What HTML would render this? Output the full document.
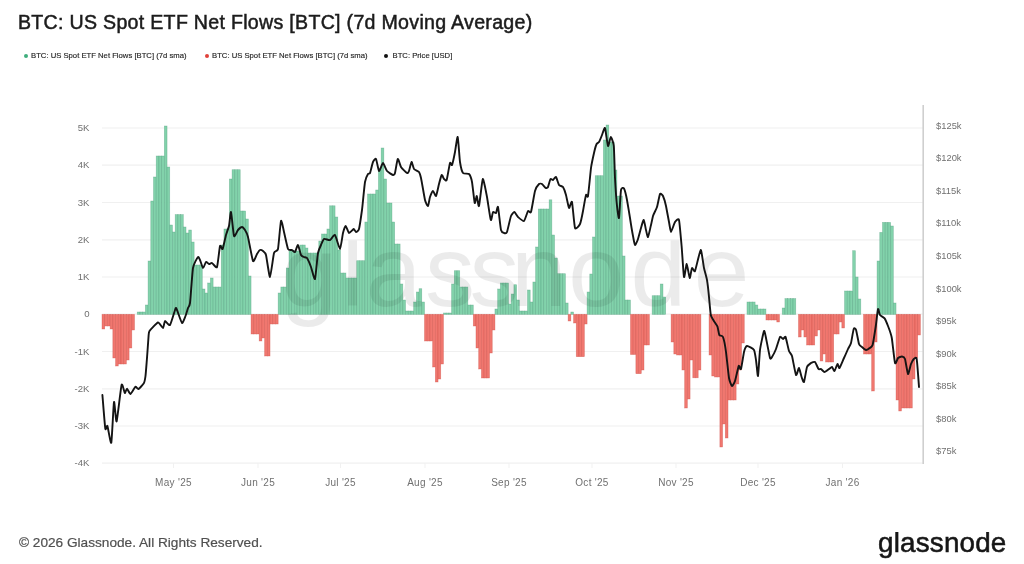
<!DOCTYPE html>
<html lang="en"><head><meta charset="utf-8"><title>BTC: US Spot ETF Net Flows [BTC] (7d Moving Average)</title>
<style>
html,body{margin:0;padding:0;background:#fff;}
body{width:1024px;height:564px;position:relative;overflow:hidden;filter:blur(0.4px);font-family:"Liberation Sans",Arial,sans-serif;}
.title{position:absolute;left:18px;top:10px;font-size:19.6px;line-height:24px;color:#1c1c1c;white-space:nowrap;letter-spacing:0.29px;-webkit-text-stroke:0.5px #1c1c1c;}
.legend{position:absolute;left:0;top:50px;height:12px;font-size:7.7px;line-height:12px;color:#262626;white-space:nowrap;-webkit-text-stroke:0.15px #262626;}
.legend span.it{position:absolute;top:0;}
.legend i{position:absolute;top:4px;width:4px;height:4px;border-radius:50%;}
.foot{position:absolute;left:19px;top:534px;font-size:13.65px;line-height:17px;color:#505050;white-space:nowrap;-webkit-text-stroke:0.2px #505050;}
.logo{position:absolute;left:878px;top:525.8px;font-size:27.8px;line-height:34px;letter-spacing:0.2px;color:#161616;white-space:nowrap;-webkit-text-stroke:0.55px #161616;clip-path:inset(6.2px 0 0 0);}
</style></head><body>
<svg width="1024" height="564" viewBox="0 0 1024 564" style="position:absolute;left:0;top:0">
<defs><clipPath id="wmclip"><rect x="270" y="240.5" width="500" height="110"/></clipPath></defs>
<g stroke="#f0f0f0" stroke-width="1.2">
<line x1="102" x2="923" y1="128.0" y2="128.0"/>
<line x1="102" x2="923" y1="165.2" y2="165.2"/>
<line x1="102" x2="923" y1="202.5" y2="202.5"/>
<line x1="102" x2="923" y1="239.8" y2="239.8"/>
<line x1="102" x2="923" y1="277.0" y2="277.0"/>
<line x1="102" x2="923" y1="314.2" y2="314.2"/>
<line x1="102" x2="923" y1="351.5" y2="351.5"/>
<line x1="102" x2="923" y1="388.8" y2="388.8"/>
<line x1="102" x2="923" y1="426.0" y2="426.0"/>
<line x1="102" x2="923" y1="463.2" y2="463.2"/>
</g>
<g stroke="#f1f1f1" stroke-width="1">
<line x1="173.5" x2="173.5" y1="463" y2="468"/>
<line x1="258.0" x2="258.0" y1="463" y2="468"/>
<line x1="340.5" x2="340.5" y1="463" y2="468"/>
<line x1="425.0" x2="425.0" y1="463" y2="468"/>
<line x1="509.0" x2="509.0" y1="463" y2="468"/>
<line x1="592.0" x2="592.0" y1="463" y2="468"/>
<line x1="676.0" x2="676.0" y1="463" y2="468"/>
<line x1="758.0" x2="758.0" y1="463" y2="468"/>
<line x1="842.5" x2="842.5" y1="463" y2="468"/>
</g>
<g fill="#7bd0a6" fill-opacity="0.95" stroke="#4a9a77" stroke-opacity="0.5" stroke-width="0.6"><rect x="137.23" y="312.0" width="2.71" height="2.4"/><rect x="139.94" y="312.0" width="2.71" height="2.4"/><rect x="142.65" y="312.0" width="2.71" height="2.4"/><rect x="145.36" y="305.0" width="2.71" height="9.4"/><rect x="148.07" y="261.0" width="2.71" height="53.4"/><rect x="150.78" y="201.0" width="2.71" height="113.4"/><rect x="153.49" y="177.0" width="2.71" height="137.4"/><rect x="156.20" y="156.0" width="2.71" height="158.4"/><rect x="158.91" y="156.0" width="2.71" height="158.4"/><rect x="161.62" y="156.0" width="2.71" height="158.4"/><rect x="164.33" y="126.0" width="2.71" height="188.4"/><rect x="167.04" y="167.0" width="2.71" height="147.4"/><rect x="169.75" y="225.0" width="2.71" height="89.4"/><rect x="172.46" y="232.0" width="2.71" height="82.4"/><rect x="175.17" y="214.6" width="2.71" height="99.8"/><rect x="177.88" y="214.6" width="2.71" height="99.8"/><rect x="180.59" y="214.6" width="2.71" height="99.8"/><rect x="183.30" y="227.0" width="2.71" height="87.4"/><rect x="186.01" y="233.0" width="2.71" height="81.4"/><rect x="188.72" y="230.0" width="2.71" height="84.4"/><rect x="191.43" y="242.0" width="2.71" height="72.4"/><rect x="194.14" y="265.0" width="2.71" height="49.4"/><rect x="196.85" y="265.0" width="2.71" height="49.4"/><rect x="199.56" y="265.0" width="2.71" height="49.4"/><rect x="202.27" y="289.0" width="2.71" height="25.4"/><rect x="204.98" y="293.0" width="2.71" height="21.4"/><rect x="207.69" y="283.0" width="2.71" height="31.4"/><rect x="210.40" y="278.0" width="2.71" height="36.4"/><rect x="213.11" y="287.0" width="2.71" height="27.4"/><rect x="215.82" y="287.0" width="2.71" height="27.4"/><rect x="218.53" y="287.0" width="2.71" height="27.4"/><rect x="221.24" y="245.0" width="2.71" height="69.4"/><rect x="223.95" y="229.0" width="2.71" height="85.4"/><rect x="226.66" y="229.0" width="2.71" height="85.4"/><rect x="229.37" y="179.0" width="2.71" height="135.4"/><rect x="232.08" y="169.7" width="2.71" height="144.7"/><rect x="234.79" y="169.7" width="2.71" height="144.7"/><rect x="237.50" y="169.7" width="2.71" height="144.7"/><rect x="240.21" y="211.0" width="2.71" height="103.4"/><rect x="242.92" y="211.0" width="2.71" height="103.4"/><rect x="245.63" y="219.0" width="2.71" height="95.4"/><rect x="248.34" y="276.0" width="2.71" height="38.4"/><rect x="278.15" y="293.0" width="2.71" height="21.4"/><rect x="280.86" y="287.0" width="2.71" height="27.4"/><rect x="283.57" y="287.0" width="2.71" height="27.4"/><rect x="286.28" y="268.0" width="2.71" height="46.4"/><rect x="288.99" y="251.0" width="2.71" height="63.4"/><rect x="291.70" y="251.0" width="2.71" height="63.4"/><rect x="294.41" y="251.0" width="2.71" height="63.4"/><rect x="297.12" y="251.0" width="2.71" height="63.4"/><rect x="299.83" y="245.0" width="2.71" height="69.4"/><rect x="302.54" y="245.0" width="2.71" height="69.4"/><rect x="305.25" y="248.0" width="2.71" height="66.4"/><rect x="307.96" y="253.0" width="2.71" height="61.4"/><rect x="310.67" y="253.0" width="2.71" height="61.4"/><rect x="313.38" y="253.0" width="2.71" height="61.4"/><rect x="316.09" y="253.0" width="2.71" height="61.4"/><rect x="318.80" y="241.0" width="2.71" height="73.4"/><rect x="321.51" y="234.0" width="2.71" height="80.4"/><rect x="324.22" y="234.0" width="2.71" height="80.4"/><rect x="326.93" y="229.0" width="2.71" height="85.4"/><rect x="329.64" y="205.8" width="2.71" height="108.6"/><rect x="332.35" y="205.8" width="2.71" height="108.6"/><rect x="335.06" y="217.0" width="2.71" height="97.4"/><rect x="337.77" y="250.0" width="2.71" height="64.4"/><rect x="340.48" y="273.0" width="2.71" height="41.4"/><rect x="343.19" y="273.0" width="2.71" height="41.4"/><rect x="345.90" y="278.0" width="2.71" height="36.4"/><rect x="348.61" y="278.0" width="2.71" height="36.4"/><rect x="351.32" y="278.0" width="2.71" height="36.4"/><rect x="354.03" y="278.0" width="2.71" height="36.4"/><rect x="356.74" y="260.7" width="2.71" height="53.7"/><rect x="359.45" y="260.7" width="2.71" height="53.7"/><rect x="362.16" y="260.7" width="2.71" height="53.7"/><rect x="364.87" y="222.0" width="2.71" height="92.4"/><rect x="367.58" y="194.0" width="2.71" height="120.4"/><rect x="370.29" y="194.0" width="2.71" height="120.4"/><rect x="373.00" y="194.0" width="2.71" height="120.4"/><rect x="375.71" y="190.0" width="2.71" height="124.4"/><rect x="378.42" y="170.0" width="2.71" height="144.4"/><rect x="381.13" y="148.0" width="2.71" height="166.4"/><rect x="383.84" y="179.0" width="2.71" height="135.4"/><rect x="386.55" y="203.0" width="2.71" height="111.4"/><rect x="389.26" y="203.0" width="2.71" height="111.4"/><rect x="391.97" y="222.0" width="2.71" height="92.4"/><rect x="394.68" y="244.0" width="2.71" height="70.4"/><rect x="397.39" y="244.0" width="2.71" height="70.4"/><rect x="400.10" y="284.0" width="2.71" height="30.4"/><rect x="402.81" y="300.0" width="2.71" height="14.4"/><rect x="405.52" y="311.0" width="2.71" height="3.4"/><rect x="408.23" y="311.0" width="2.71" height="3.4"/><rect x="410.94" y="311.0" width="2.71" height="3.4"/><rect x="413.65" y="302.0" width="2.71" height="12.4"/><rect x="416.36" y="292.0" width="2.71" height="22.4"/><rect x="419.07" y="288.7" width="2.71" height="25.7"/><rect x="421.78" y="302.0" width="2.71" height="12.4"/><rect x="443.46" y="313.0" width="2.71" height="1.4"/><rect x="446.17" y="313.0" width="2.71" height="1.4"/><rect x="448.88" y="313.0" width="2.71" height="1.4"/><rect x="451.59" y="284.0" width="2.71" height="30.4"/><rect x="454.30" y="270.7" width="2.71" height="43.7"/><rect x="457.01" y="270.7" width="2.71" height="43.7"/><rect x="459.72" y="287.0" width="2.71" height="27.4"/><rect x="462.43" y="287.0" width="2.71" height="27.4"/><rect x="465.14" y="287.0" width="2.71" height="27.4"/><rect x="467.85" y="305.0" width="2.71" height="9.4"/><rect x="470.56" y="305.0" width="2.71" height="9.4"/><rect x="494.95" y="309.0" width="2.71" height="5.4"/><rect x="497.66" y="289.0" width="2.71" height="25.4"/><rect x="500.37" y="283.0" width="2.71" height="31.4"/><rect x="503.08" y="283.0" width="2.71" height="31.4"/><rect x="505.79" y="283.0" width="2.71" height="31.4"/><rect x="508.50" y="304.0" width="2.71" height="10.4"/><rect x="511.21" y="294.0" width="2.71" height="20.4"/><rect x="513.92" y="284.7" width="2.71" height="29.7"/><rect x="516.63" y="300.0" width="2.71" height="14.4"/><rect x="519.34" y="311.0" width="2.71" height="3.4"/><rect x="522.05" y="311.0" width="2.71" height="3.4"/><rect x="524.76" y="311.0" width="2.71" height="3.4"/><rect x="527.47" y="290.0" width="2.71" height="24.4"/><rect x="530.18" y="302.0" width="2.71" height="12.4"/><rect x="532.89" y="282.0" width="2.71" height="32.4"/><rect x="535.60" y="247.0" width="2.71" height="67.4"/><rect x="538.31" y="209.0" width="2.71" height="105.4"/><rect x="541.02" y="209.0" width="2.71" height="105.4"/><rect x="543.73" y="209.0" width="2.71" height="105.4"/><rect x="546.44" y="209.0" width="2.71" height="105.4"/><rect x="549.15" y="199.8" width="2.71" height="114.6"/><rect x="551.86" y="235.0" width="2.71" height="79.4"/><rect x="554.57" y="258.0" width="2.71" height="56.4"/><rect x="557.28" y="273.7" width="2.71" height="40.7"/><rect x="559.99" y="273.7" width="2.71" height="40.7"/><rect x="562.70" y="273.7" width="2.71" height="40.7"/><rect x="565.41" y="303.0" width="2.71" height="11.4"/><rect x="570.83" y="312.0" width="2.71" height="2.4"/><rect x="587.09" y="292.0" width="2.71" height="22.4"/><rect x="589.80" y="274.0" width="2.71" height="40.4"/><rect x="592.51" y="237.0" width="2.71" height="77.4"/><rect x="595.22" y="175.7" width="2.71" height="138.7"/><rect x="597.93" y="175.7" width="2.71" height="138.7"/><rect x="600.64" y="175.7" width="2.71" height="138.7"/><rect x="603.35" y="140.0" width="2.71" height="174.4"/><rect x="606.06" y="125.0" width="2.71" height="189.4"/><rect x="608.77" y="142.0" width="2.71" height="172.4"/><rect x="611.48" y="142.0" width="2.71" height="172.4"/><rect x="614.19" y="170.0" width="2.71" height="144.4"/><rect x="616.90" y="196.0" width="2.71" height="118.4"/><rect x="619.61" y="196.0" width="2.71" height="118.4"/><rect x="622.32" y="256.0" width="2.71" height="58.4"/><rect x="625.03" y="300.0" width="2.71" height="14.4"/><rect x="627.74" y="300.0" width="2.71" height="14.4"/><rect x="652.13" y="295.7" width="2.71" height="18.7"/><rect x="654.84" y="295.7" width="2.71" height="18.7"/><rect x="657.55" y="295.7" width="2.71" height="18.7"/><rect x="660.26" y="284.0" width="2.71" height="30.4"/><rect x="662.97" y="297.0" width="2.71" height="17.4"/><rect x="746.98" y="302.0" width="2.71" height="12.4"/><rect x="749.69" y="302.0" width="2.71" height="12.4"/><rect x="752.40" y="302.0" width="2.71" height="12.4"/><rect x="755.11" y="305.0" width="2.71" height="9.4"/><rect x="757.82" y="309.0" width="2.71" height="5.4"/><rect x="760.53" y="309.0" width="2.71" height="5.4"/><rect x="763.24" y="309.0" width="2.71" height="5.4"/><rect x="782.21" y="308.0" width="2.71" height="6.4"/><rect x="784.92" y="298.6" width="2.71" height="15.8"/><rect x="787.63" y="298.6" width="2.71" height="15.8"/><rect x="790.34" y="298.6" width="2.71" height="15.8"/><rect x="793.05" y="298.6" width="2.71" height="15.8"/><rect x="844.54" y="291.0" width="2.71" height="23.4"/><rect x="847.25" y="291.0" width="2.71" height="23.4"/><rect x="849.96" y="291.0" width="2.71" height="23.4"/><rect x="852.67" y="250.7" width="2.71" height="63.7"/><rect x="855.38" y="277.0" width="2.71" height="37.4"/><rect x="858.09" y="299.0" width="2.71" height="15.4"/><rect x="877.06" y="261.0" width="2.71" height="53.4"/><rect x="879.77" y="232.4" width="2.71" height="82.0"/><rect x="882.48" y="222.4" width="2.71" height="92.0"/><rect x="885.19" y="222.4" width="2.71" height="92.0"/><rect x="887.90" y="222.4" width="2.71" height="92.0"/><rect x="890.61" y="226.0" width="2.71" height="88.4"/><rect x="893.32" y="303.0" width="2.71" height="11.4"/></g>
<g fill="#ef7169" fill-opacity="0.96" stroke="#c9453d" stroke-opacity="0.5" stroke-width="0.6"><rect x="102.00" y="314.4" width="2.71" height="14.6"/><rect x="104.71" y="314.4" width="2.71" height="11.6"/><rect x="107.42" y="314.4" width="2.71" height="11.6"/><rect x="110.13" y="314.4" width="2.71" height="14.6"/><rect x="112.84" y="314.4" width="2.71" height="43.6"/><rect x="115.55" y="314.4" width="2.71" height="51.6"/><rect x="118.26" y="314.4" width="2.71" height="49.6"/><rect x="120.97" y="314.4" width="2.71" height="49.6"/><rect x="123.68" y="314.4" width="2.71" height="49.6"/><rect x="126.39" y="314.4" width="2.71" height="45.6"/><rect x="129.10" y="314.4" width="2.71" height="33.6"/><rect x="131.81" y="314.4" width="2.71" height="15.6"/><rect x="251.05" y="314.4" width="2.71" height="19.6"/><rect x="253.76" y="314.4" width="2.71" height="19.6"/><rect x="256.47" y="314.4" width="2.71" height="19.6"/><rect x="259.18" y="314.4" width="2.71" height="26.6"/><rect x="261.89" y="314.4" width="2.71" height="23.6"/><rect x="264.60" y="314.4" width="2.71" height="41.6"/><rect x="267.31" y="314.4" width="2.71" height="41.6"/><rect x="270.02" y="314.4" width="2.71" height="9.6"/><rect x="272.73" y="314.4" width="2.71" height="9.6"/><rect x="275.44" y="314.4" width="2.71" height="9.6"/><rect x="424.49" y="314.4" width="2.71" height="26.6"/><rect x="427.20" y="314.4" width="2.71" height="26.6"/><rect x="429.91" y="314.4" width="2.71" height="26.6"/><rect x="432.62" y="314.4" width="2.71" height="52.6"/><rect x="435.33" y="314.4" width="2.71" height="67.6"/><rect x="438.04" y="314.4" width="2.71" height="64.6"/><rect x="440.75" y="314.4" width="2.71" height="49.6"/><rect x="473.27" y="314.4" width="2.71" height="11.6"/><rect x="475.98" y="314.4" width="2.71" height="33.6"/><rect x="478.69" y="314.4" width="2.71" height="54.6"/><rect x="481.40" y="314.4" width="2.71" height="63.6"/><rect x="484.11" y="314.4" width="2.71" height="63.6"/><rect x="486.82" y="314.4" width="2.71" height="63.6"/><rect x="489.53" y="314.4" width="2.71" height="38.6"/><rect x="492.24" y="314.4" width="2.71" height="15.6"/><rect x="568.12" y="314.4" width="2.71" height="6.6"/><rect x="573.54" y="314.4" width="2.71" height="8.6"/><rect x="576.25" y="314.4" width="2.71" height="42.3"/><rect x="578.96" y="314.4" width="2.71" height="42.3"/><rect x="581.67" y="314.4" width="2.71" height="42.3"/><rect x="584.38" y="314.4" width="2.71" height="9.6"/><rect x="630.45" y="314.4" width="2.71" height="40.1"/><rect x="633.16" y="314.4" width="2.71" height="40.1"/><rect x="635.87" y="314.4" width="2.71" height="59.3"/><rect x="638.58" y="314.4" width="2.71" height="59.3"/><rect x="641.29" y="314.4" width="2.71" height="55.6"/><rect x="644.00" y="314.4" width="2.71" height="30.6"/><rect x="646.71" y="314.4" width="2.71" height="30.6"/><rect x="671.10" y="314.4" width="2.71" height="27.6"/><rect x="673.81" y="314.4" width="2.71" height="39.6"/><rect x="676.52" y="314.4" width="2.71" height="40.6"/><rect x="679.23" y="314.4" width="2.71" height="40.6"/><rect x="681.94" y="314.4" width="2.71" height="55.6"/><rect x="684.65" y="314.4" width="2.71" height="93.6"/><rect x="687.36" y="314.4" width="2.71" height="84.6"/><rect x="690.07" y="314.4" width="2.71" height="45.6"/><rect x="692.78" y="314.4" width="2.71" height="63.4"/><rect x="695.49" y="314.4" width="2.71" height="63.4"/><rect x="698.20" y="314.4" width="2.71" height="55.6"/><rect x="709.04" y="314.4" width="2.71" height="40.6"/><rect x="711.75" y="314.4" width="2.71" height="61.6"/><rect x="714.46" y="314.4" width="2.71" height="62.6"/><rect x="717.17" y="314.4" width="2.71" height="62.6"/><rect x="719.88" y="314.4" width="2.71" height="132.6"/><rect x="722.59" y="314.4" width="2.71" height="109.6"/><rect x="725.30" y="314.4" width="2.71" height="123.6"/><rect x="728.01" y="314.4" width="2.71" height="85.6"/><rect x="730.72" y="314.4" width="2.71" height="85.6"/><rect x="733.43" y="314.4" width="2.71" height="85.6"/><rect x="736.14" y="314.4" width="2.71" height="69.6"/><rect x="738.85" y="314.4" width="2.71" height="55.6"/><rect x="741.56" y="314.4" width="2.71" height="28.6"/><rect x="765.95" y="314.4" width="2.71" height="5.6"/><rect x="768.66" y="314.4" width="2.71" height="5.6"/><rect x="771.37" y="314.4" width="2.71" height="5.6"/><rect x="774.08" y="314.4" width="2.71" height="5.6"/><rect x="776.79" y="314.4" width="2.71" height="7.6"/><rect x="798.47" y="314.4" width="2.71" height="22.6"/><rect x="801.18" y="314.4" width="2.71" height="15.6"/><rect x="803.89" y="314.4" width="2.71" height="22.6"/><rect x="806.60" y="314.4" width="2.71" height="30.6"/><rect x="809.31" y="314.4" width="2.71" height="30.6"/><rect x="812.02" y="314.4" width="2.71" height="30.6"/><rect x="814.73" y="314.4" width="2.71" height="21.6"/><rect x="817.44" y="314.4" width="2.71" height="15.6"/><rect x="820.15" y="314.4" width="2.71" height="46.6"/><rect x="822.86" y="314.4" width="2.71" height="39.6"/><rect x="825.57" y="314.4" width="2.71" height="47.6"/><rect x="828.28" y="314.4" width="2.71" height="47.6"/><rect x="830.99" y="314.4" width="2.71" height="47.6"/><rect x="833.70" y="314.4" width="2.71" height="19.6"/><rect x="836.41" y="314.4" width="2.71" height="19.6"/><rect x="839.12" y="314.4" width="2.71" height="7.6"/><rect x="841.83" y="314.4" width="2.71" height="13.6"/><rect x="863.51" y="314.4" width="2.71" height="39.6"/><rect x="866.22" y="314.4" width="2.71" height="39.6"/><rect x="868.93" y="314.4" width="2.71" height="39.6"/><rect x="871.64" y="314.4" width="2.71" height="76.6"/><rect x="874.35" y="314.4" width="2.71" height="27.6"/><rect x="896.03" y="314.4" width="2.71" height="85.6"/><rect x="898.74" y="314.4" width="2.71" height="96.6"/><rect x="901.45" y="314.4" width="2.71" height="93.6"/><rect x="904.16" y="314.4" width="2.71" height="93.6"/><rect x="906.87" y="314.4" width="2.71" height="93.6"/><rect x="909.58" y="314.4" width="2.71" height="93.6"/><rect x="912.29" y="314.4" width="2.71" height="64.6"/><rect x="915.00" y="314.4" width="2.71" height="43.6"/><rect x="917.71" y="314.4" width="2.71" height="20.6"/></g>
<text x="281.3 341.4 366 424.9 469.4 511.1 568.2 630.5 693.8" y="306" font-family="Liberation Sans, Arial, sans-serif" font-size="100" fill="#000" fill-opacity="0.078" clip-path="url(#wmclip)">glassnode</text>
<line x1="923.2" x2="923.2" y1="105" y2="464" stroke="#cfcfcf" stroke-width="1.6"/>
<path d="M102.4,395.0C102.7,398.1 104.8,425.7 105.3,428.5C105.8,431.3 106.9,424.7 107.4,426.0C108.0,427.3 110.7,444.9 111.3,442.7C111.9,440.5 113.5,404.0 114.0,402.0C114.5,400.0 115.9,423.0 116.6,421.4C117.3,419.8 120.8,387.6 121.6,385.0C122.4,382.4 124.3,392.7 124.8,393.0C125.3,393.3 126.5,388.5 127.0,388.6C127.5,388.7 129.7,394.2 130.5,394.0C131.3,393.8 134.7,387.3 135.4,386.8C136.1,386.3 137.6,389.3 138.4,389.0C139.2,388.7 143.1,384.5 143.8,383.3C144.5,382.1 145.2,378.3 145.5,376.0C145.8,373.7 146.7,361.6 147.0,358.0C147.3,354.4 148.3,339.5 148.5,337.0C148.7,334.5 148.6,332.3 149.5,331.0C150.4,329.7 156.8,322.8 158.0,322.5C159.2,322.2 162.4,328.1 163.0,328.0C163.6,327.9 164.4,321.3 165.0,321.0C165.6,320.7 169.0,326.1 170.0,325.0C171.0,323.9 174.9,309.9 175.5,308.5C176.1,307.1 176.4,308.7 177.0,310.0C177.6,311.3 181.2,322.4 182.0,323.0C182.8,323.6 184.9,317.4 185.5,316.0C186.1,314.6 187.6,309.2 188.0,308.0C188.4,306.8 189.5,306.7 190.0,303.0C190.5,299.3 192.3,272.2 193.0,268.0C193.7,263.8 197.4,257.7 198.0,257.0C198.6,256.3 199.5,259.0 200.0,260.0C200.5,261.0 202.4,267.8 203.0,268.0C203.6,268.2 205.4,262.4 206.0,262.0C206.6,261.6 208.4,263.9 209.0,264.0C209.6,264.1 211.3,262.7 212.0,263.0C212.7,263.3 216.3,268.6 217.0,267.0C217.7,265.4 219.5,247.7 220.0,246.0C220.5,244.3 222.0,250.0 222.6,249.0C223.2,248.0 225.4,237.1 226.0,235.0C226.6,232.9 228.5,228.1 229.0,226.0C229.5,223.9 230.5,211.1 231.0,212.0C231.5,212.9 233.4,234.3 234.0,236.0C234.6,237.7 237.3,230.8 238.0,230.0C238.7,229.2 241.4,227.0 242.0,227.0C242.6,227.0 244.4,229.1 245.0,230.0C245.6,230.9 247.3,234.2 248.0,237.0C248.7,239.8 252.2,259.4 253.0,261.0C253.8,262.6 256.4,255.0 257.0,254.0C257.6,253.0 259.4,250.3 260.0,250.0C260.6,249.7 262.4,250.5 263.0,251.0C263.6,251.5 265.4,252.6 266.0,255.0C266.6,257.4 269.3,277.2 270.0,277.0C270.7,276.8 273.3,255.6 274.0,253.0C274.7,250.4 277.4,251.9 278.0,249.0C278.6,246.1 280.4,222.6 281.0,221.0C281.6,219.4 283.4,229.4 284.0,232.0C284.6,234.6 287.3,247.3 288.0,249.0C288.7,250.7 291.4,249.7 292.0,250.0C292.6,250.3 294.4,252.5 295.0,252.0C295.6,251.5 297.4,244.7 298.0,245.0C298.6,245.3 300.4,253.9 301.0,255.0C301.6,256.1 303.4,256.7 304.0,257.0C304.6,257.3 306.4,257.1 307.0,258.0C307.6,258.9 310.3,265.1 311.0,267.0C311.7,268.9 314.4,280.3 315.0,279.0C315.6,277.7 317.4,256.1 318.0,253.0C318.6,249.9 320.4,246.3 321.0,245.0C321.6,243.7 323.2,239.5 324.0,239.0C324.8,238.5 329.0,240.4 330.0,240.0C331.0,239.6 334.1,234.2 335.0,235.0C335.9,235.8 339.3,249.2 340.0,249.0C340.7,248.8 342.5,235.1 343.0,233.0C343.5,230.9 345.1,226.0 345.7,226.0C346.2,226.0 348.3,232.7 349.0,233.0C349.7,233.3 353.1,229.1 353.7,229.0C354.3,228.9 355.5,232.0 356.0,232.0C356.5,232.0 358.4,231.0 359.0,229.0C359.6,227.0 361.4,214.3 362.0,210.0C362.6,205.7 364.4,185.3 365.0,182.0C365.6,178.7 367.5,174.8 368.0,174.0C368.5,173.2 369.5,174.1 370.0,173.0C370.5,171.9 372.4,163.3 373.0,162.0C373.6,160.7 375.4,158.2 376.0,159.0C376.6,159.8 378.4,170.6 379.0,171.0C379.6,171.4 382.3,163.0 383.0,163.0C383.7,163.0 386.1,169.9 387.0,171.0C387.9,172.1 392.3,174.8 393.0,175.0C393.7,175.2 394.6,174.5 395.0,173.0C395.4,171.5 397.2,159.6 397.8,159.0C398.4,158.4 400.2,165.7 401.0,167.0C401.8,168.3 406.3,172.6 407.0,173.0C407.7,173.4 408.6,172.0 409.0,171.0C409.4,170.0 411.1,162.2 411.6,162.0C412.1,161.8 413.3,168.1 414.0,169.0C414.7,169.9 418.4,171.2 419.0,172.0C419.6,172.8 420.4,175.4 421.0,178.0C421.6,180.6 424.4,197.4 425.0,200.0C425.6,202.6 427.5,206.3 428.0,206.0C428.5,205.7 429.5,198.4 430.0,197.0C430.5,195.6 432.4,191.1 433.0,191.0C433.6,190.9 435.4,196.6 436.0,196.0C436.6,195.4 438.5,185.9 439.0,184.0C439.5,182.1 441.2,175.5 441.7,175.0C442.2,174.5 443.5,178.5 444.0,179.0C444.5,179.5 446.1,181.5 446.7,180.0C447.2,178.5 449.5,164.4 450.0,163.0C450.5,161.6 451.5,166.0 452.0,165.0C452.5,164.0 454.5,154.6 455.0,152.0C455.5,149.4 457.2,136.1 457.7,137.0C458.2,137.9 459.5,158.7 460.0,162.0C460.5,165.3 462.2,171.9 463.0,173.0C463.8,174.1 468.2,173.2 469.0,174.0C469.8,174.8 471.5,179.3 472.0,182.0C472.5,184.7 474.3,201.7 474.7,203.0C475.1,204.3 476.4,195.7 476.8,196.0C477.2,196.3 478.4,207.6 479.0,206.0C479.6,204.4 482.1,179.8 482.8,179.0C483.5,178.2 486.3,193.2 487.0,197.0C487.7,200.8 490.2,218.6 490.8,220.0C491.4,221.4 492.5,212.6 493.0,212.0C493.5,211.4 495.5,213.5 496.0,213.0C496.5,212.5 497.5,205.4 498.0,207.0C498.5,208.6 500.4,227.6 501.0,230.0C501.6,232.4 503.4,232.8 504.0,233.0C504.6,233.2 506.4,233.6 507.0,232.0C507.6,230.4 510.3,217.8 511.0,216.0C511.7,214.2 513.8,211.9 514.4,212.0C515.0,212.1 517.1,216.2 518.0,217.0C518.9,217.8 523.1,221.6 524.0,221.0C524.9,220.4 527.4,211.8 528.0,211.0C528.6,210.2 530.4,213.8 531.0,212.0C531.6,210.2 534.3,193.6 535.0,191.0C535.7,188.4 538.4,184.6 539.0,184.0C539.6,183.4 541.4,183.6 542.0,184.0C542.6,184.4 545.2,187.7 545.7,188.0C546.2,188.3 547.6,187.8 548.0,187.0C548.4,186.2 550.0,179.6 550.5,179.0C551.0,178.4 552.5,180.2 553.0,180.0C553.5,179.8 555.5,176.5 556.0,177.0C556.5,177.5 558.4,184.1 559.0,185.0C559.6,185.9 562.4,186.1 563.0,187.0C563.6,187.9 565.5,193.1 566.0,195.0C566.5,196.9 568.5,207.4 569.0,208.0C569.5,208.6 571.5,200.2 572.0,202.0C572.5,203.8 574.3,226.0 575.0,228.0C575.7,230.0 579.3,225.6 580.0,224.0C580.7,222.4 582.5,213.7 583.0,211.0C583.5,208.3 585.5,196.4 586.0,195.0C586.5,193.6 587.5,198.5 588.0,196.0C588.5,193.5 590.5,171.9 591.0,168.0C591.5,164.1 593.5,155.2 594.0,153.0C594.5,150.8 596.1,145.0 596.6,144.0C597.1,143.0 598.5,142.8 599.0,142.0C599.5,141.2 601.5,136.3 602.0,135.0C602.5,133.7 604.5,127.0 605.0,128.0C605.5,129.0 607.5,145.2 608.0,146.0C608.5,146.8 610.3,137.0 610.8,137.0C611.3,137.0 613.4,142.2 613.8,146.0C614.2,149.8 614.7,172.5 615.0,178.0C615.3,183.5 616.6,202.3 617.0,206.0C617.4,209.7 618.6,219.5 619.0,218.0C619.4,216.5 620.5,192.7 621.0,190.0C621.5,187.3 623.5,187.6 624.0,188.5C624.5,189.4 626.5,197.3 627.0,200.0C627.5,202.7 629.5,214.7 630.0,218.0C630.5,221.3 632.5,233.5 633.0,236.0C633.5,238.5 634.5,244.7 635.0,245.0C635.5,245.3 637.5,240.6 638.0,239.0C638.5,237.4 640.5,229.7 641.0,228.0C641.5,226.3 643.2,219.8 643.7,220.0C644.2,220.2 645.6,228.4 646.0,230.0C646.4,231.6 647.5,237.5 648.0,237.0C648.5,236.5 650.5,226.9 651.0,225.0C651.5,223.1 652.5,217.7 653.0,216.0C653.5,214.3 656.4,209.0 657.0,207.0C657.6,205.0 659.5,195.0 660.0,194.0C660.5,193.0 662.5,194.9 663.0,196.0C663.5,197.1 665.5,203.6 666.0,206.0C666.5,208.4 668.5,219.6 669.0,222.0C669.5,224.4 670.5,232.0 671.0,232.0C671.5,232.0 674.3,223.1 675.0,222.0C675.7,220.9 678.4,217.8 679.0,220.0C679.6,222.2 681.1,240.8 681.6,246.0C682.1,251.2 683.5,275.4 684.0,277.0C684.5,278.6 686.2,263.9 686.7,264.0C687.2,264.1 689.2,277.6 689.7,278.0C690.2,278.4 691.5,268.6 692.0,268.0C692.5,267.4 694.2,272.6 695.0,271.0C695.8,269.4 699.9,250.3 700.7,250.0C701.5,249.7 703.4,265.2 704.0,268.0C704.6,270.8 706.5,277.3 707.0,280.0C707.5,282.7 708.7,293.8 709.0,297.0C709.3,300.2 710.4,312.9 710.8,315.0C711.2,317.1 712.8,319.2 713.4,320.3C714.0,321.4 717.0,325.4 717.5,326.7C718.0,328.0 718.8,334.1 719.3,335.0C719.8,335.9 722.4,335.4 723.0,337.0C723.6,338.6 725.5,348.2 726.0,352.0C726.5,355.8 728.5,374.9 729.0,378.0C729.5,381.1 731.5,385.7 732.0,386.0C732.5,386.3 734.4,382.8 735.0,381.0C735.6,379.2 738.2,367.1 738.7,366.0C739.2,364.9 740.5,370.3 741.0,369.0C741.5,367.7 743.5,354.1 744.0,352.0C744.5,349.9 746.1,346.2 747.0,346.0C747.9,345.8 753.2,348.7 754.0,350.0C754.8,351.3 755.6,357.6 756.0,360.0C756.4,362.4 757.6,376.9 758.0,376.0C758.4,375.1 759.5,354.1 760.0,350.0C760.5,345.9 763.5,332.1 764.0,331.0C764.5,329.9 765.5,335.5 766.0,338.0C766.5,340.5 769.5,356.3 770.0,358.0C770.5,359.7 771.5,357.8 772.0,357.0C772.5,356.2 775.3,350.8 776.0,349.0C776.7,347.2 779.4,337.9 780.0,337.0C780.6,336.1 782.5,339.0 783.0,339.0C783.5,339.0 785.1,335.9 785.6,337.0C786.1,338.1 788.4,349.3 789.0,351.0C789.6,352.7 791.4,353.8 792.0,356.0C792.6,358.2 795.4,373.9 796.0,375.0C796.6,376.1 798.5,367.8 799.0,368.0C799.5,368.2 801.1,375.7 801.6,377.0C802.1,378.3 803.5,382.9 804.0,382.0C804.5,381.1 806.4,368.7 807.0,367.0C807.6,365.3 810.3,363.5 811.0,363.0C811.7,362.5 814.3,361.4 815.0,362.0C815.7,362.6 818.0,368.4 818.5,369.0C819.0,369.6 820.5,368.7 821.0,369.0C821.5,369.3 823.8,372.0 824.5,372.0C825.2,372.0 828.3,369.5 829.0,369.0C829.7,368.5 831.5,366.8 832.0,367.0C832.5,367.2 834.0,371.3 834.5,371.0C835.0,370.7 837.0,364.3 837.5,364.0C838.0,363.7 838.9,368.6 839.5,368.0C840.1,367.4 843.2,359.7 844.0,358.0C844.8,356.3 847.4,350.4 848.0,349.0C848.6,347.6 850.5,344.8 851.0,343.0C851.5,341.2 853.2,330.2 853.7,329.0C854.2,327.8 855.5,328.3 856.0,329.7C856.5,331.1 858.5,342.4 859.0,344.0C859.5,345.6 861.4,346.4 862.0,347.0C862.6,347.6 865.4,349.9 866.0,350.0C866.6,350.1 868.4,349.0 869.0,348.5C869.6,348.0 872.0,347.1 872.6,345.0C873.2,342.9 875.3,329.3 875.8,326.0C876.3,322.7 877.6,310.0 878.0,309.0C878.4,308.0 879.4,314.1 880.0,315.0C880.6,315.9 883.9,317.4 884.6,318.4C885.3,319.4 887.3,324.2 888.0,326.0C888.7,327.8 891.2,334.6 891.8,338.0C892.4,341.4 894.4,361.2 895.0,363.0C895.6,364.8 897.4,358.6 898.0,358.0C898.6,357.4 901.4,356.4 902.0,356.5C902.6,356.6 904.5,357.4 905.0,359.0C905.5,360.6 907.5,373.5 908.0,374.0C908.5,374.5 910.5,365.4 911.0,364.0C911.5,362.6 913.3,359.5 913.8,359.0C914.3,358.5 916.2,356.4 916.7,359.0C917.2,361.6 918.8,384.4 919.0,387.0" fill="none" stroke="#141414" stroke-width="1.9" stroke-linejoin="round" stroke-linecap="round"/>
<g font-family="Liberation Sans, Arial, sans-serif" font-size="9.6" fill="#707070">
<text x="89.5" y="131.2" text-anchor="end">5K</text>
<text x="89.5" y="168.4" text-anchor="end">4K</text>
<text x="89.5" y="205.7" text-anchor="end">3K</text>
<text x="89.5" y="242.9" text-anchor="end">2K</text>
<text x="89.5" y="280.2" text-anchor="end">1K</text>
<text x="89.5" y="317.4" text-anchor="end">0</text>
<text x="89.5" y="354.7" text-anchor="end">-1K</text>
<text x="89.5" y="391.9" text-anchor="end">-2K</text>
<text x="89.5" y="429.2" text-anchor="end">-3K</text>
<text x="89.5" y="466.4" text-anchor="end">-4K</text>
<text x="936" y="128.7" font-size="9.4">$125k</text>
<text x="936" y="161.3" font-size="9.4">$120k</text>
<text x="936" y="193.8" font-size="9.4">$115k</text>
<text x="936" y="226.4" font-size="9.4">$110k</text>
<text x="936" y="259.0" font-size="9.4">$105k</text>
<text x="936" y="291.5" font-size="9.4">$100k</text>
<text x="936" y="324.1" font-size="9.4">$95k</text>
<text x="936" y="356.7" font-size="9.4">$90k</text>
<text x="936" y="389.3" font-size="9.4">$85k</text>
<text x="936" y="421.8" font-size="9.4">$80k</text>
<text x="936" y="454.4" font-size="9.4">$75k</text>
<text x="173.5" y="486" text-anchor="middle" font-size="10" letter-spacing="0.3">May &#39;25</text>
<text x="258.0" y="486" text-anchor="middle" font-size="10" letter-spacing="0.3">Jun &#39;25</text>
<text x="340.5" y="486" text-anchor="middle" font-size="10" letter-spacing="0.3">Jul &#39;25</text>
<text x="425.0" y="486" text-anchor="middle" font-size="10" letter-spacing="0.3">Aug &#39;25</text>
<text x="509.0" y="486" text-anchor="middle" font-size="10" letter-spacing="0.3">Sep &#39;25</text>
<text x="592.0" y="486" text-anchor="middle" font-size="10" letter-spacing="0.3">Oct &#39;25</text>
<text x="676.0" y="486" text-anchor="middle" font-size="10" letter-spacing="0.3">Nov &#39;25</text>
<text x="758.0" y="486" text-anchor="middle" font-size="10" letter-spacing="0.3">Dec &#39;25</text>
<text x="842.5" y="486" text-anchor="middle" font-size="10" letter-spacing="0.3">Jan &#39;26</text>
</g>
</svg>
<div class="title">BTC: US Spot ETF Net Flows [BTC] (7d Moving Average)</div>
<div class="legend">
<i style="left:23.5px;background:#3fae7d"></i><span class="it" style="left:31px">BTC: US Spot ETF Net Flows [BTC] (7d sma)</span>
<i style="left:204.8px;background:#e0413a"></i><span class="it" style="left:212px">BTC: US Spot ETF Net Flows [BTC] (7d sma)</span>
<i style="left:384.3px;background:#111"></i><span class="it" style="left:392.5px">BTC: Price [USD]</span>
</div>
<div class="foot">&copy; 2026 Glassnode. All Rights Reserved.</div>
<div class="logo">glassnode</div>
</body></html>
